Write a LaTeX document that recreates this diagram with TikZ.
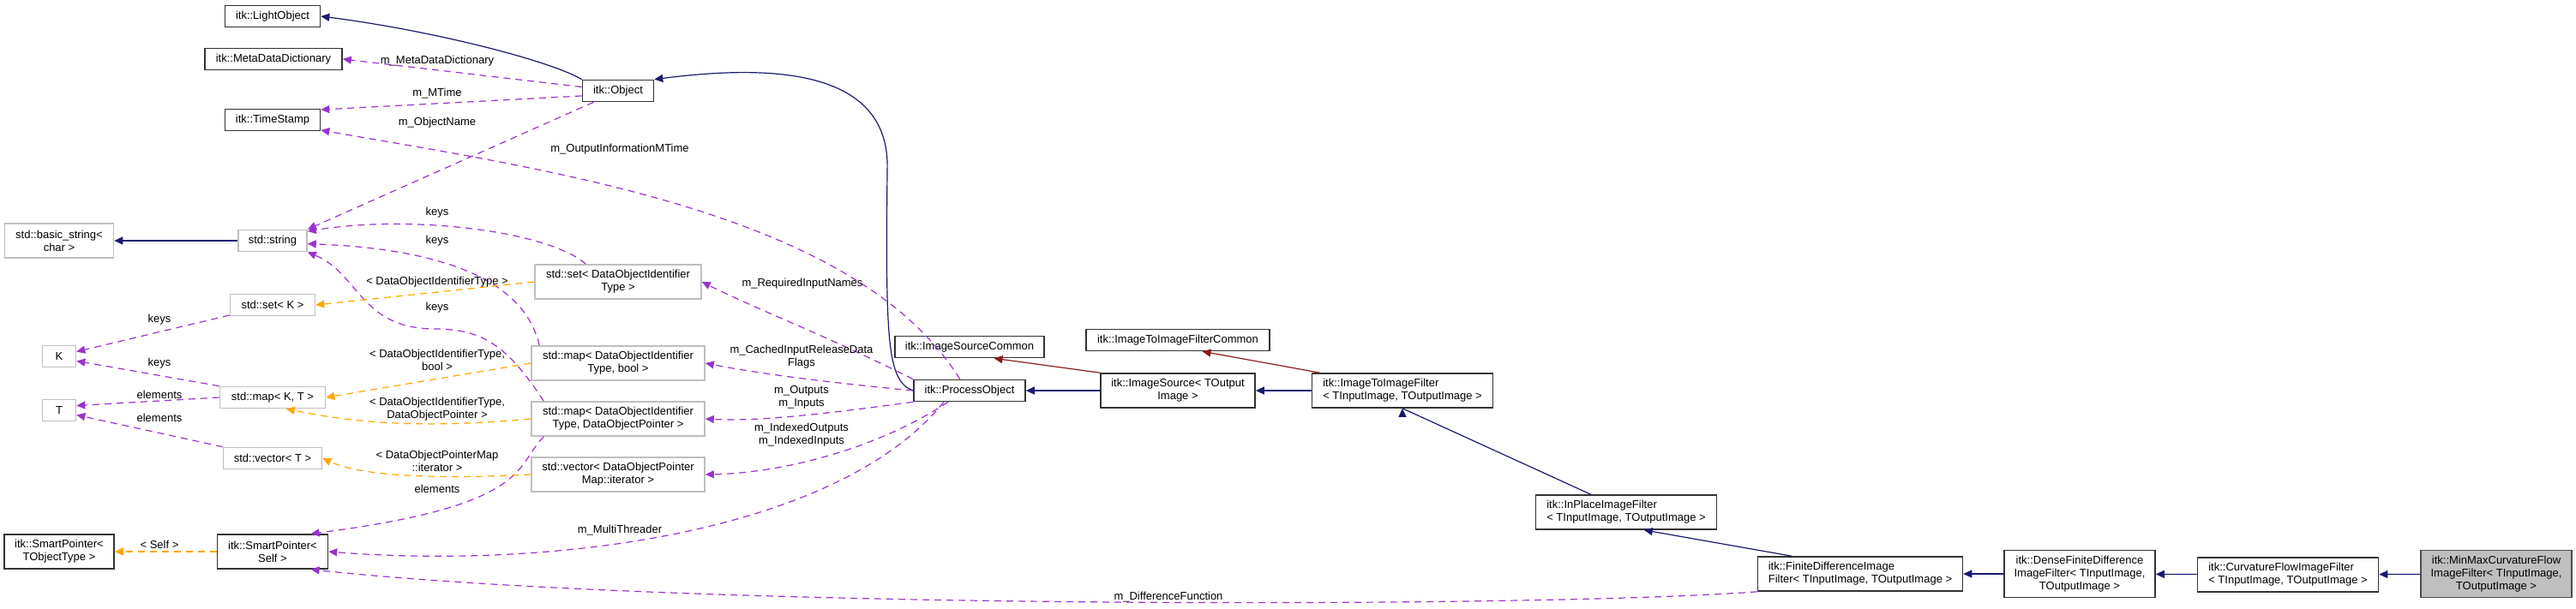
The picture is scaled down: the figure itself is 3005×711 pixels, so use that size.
\documentclass[tikz,border=0pt]{standalone}
\usepackage{fontspec}
\setmainfont{Liberation Sans}
\usetikzlibrary{arrows.meta}

\definecolor{inhcol}{HTML}{191970}
\definecolor{usecol}{HTML}{9A32CD}
\definecolor{tplcol}{HTML}{FFA500}
\definecolor{privcol}{HTML}{8B1A1A}
\definecolor{extcol}{HTML}{BFBFBF}

\tikzset{
  box/.style 2 args={draw, thick, inner sep=1pt, align=center, font=\fontsize{6.5}{7.6}\selectfont,
    minimum width=#1*0.5pt, minimum height=#2*0.5pt},
  cls/.style={draw=black!80},
  ext/.style={draw=extcol},
  root/.style={draw=black!70, fill=extcol},
  lbl/.style={font=\fontsize{6.5}{7.6}\selectfont, align=center, inner sep=0pt},
  inh/.style={draw=inhcol, semithick, -{Triangle[length=5pt,width=4.5pt]}},
  priv/.style={draw=privcol, semithick, -{Triangle[length=5pt,width=4.5pt]}},
  use/.style={draw=usecol, semithick, dash pattern=on 4pt off 3pt, -{Triangle[length=5pt,width=4.5pt]}},
  tpl/.style={draw=tplcol, semithick, dash pattern=on 4pt off 3pt, -{Triangle[length=5pt,width=4.5pt]}},
}

\begin{document}
\begin{tikzpicture}[x=0.5pt, y=-0.5pt]
\useasboundingbox (0,0) rectangle (3005,711);

% classes
\node (lightobj) [box={111}{25}, cls] at (318,19) {itk::LightObject};
\node (metadict) [box={160}{25}, cls] at (319,69) {itk::MetaDataDictionary};
\node (timestamp) [box={111}{25}, cls] at (318,140) {itk::TimeStamp};
\node (object) [box={83}{25}, cls] at (721,106) {itk::Object};
\node (basicstr) [box={127}{40}, ext] at (69,281) {std::basic\_string\textless\\char \textgreater};
\node (stdstr) [box={80}{25}, ext] at (318,281) {std::string};
\node (setk) [box={99}{25}, ext] at (318,356) {std::set\textless\ K \textgreater};
\node (nk) [box={39}{25}, ext] at (69,416) {K};
\node (nt) [box={39}{25}, ext] at (69,479) {T};
\node (mapkt) [box={123}{25}, ext] at (318,464) {std::map\textless\ K, T \textgreater};
\node (vect) [box={115}{25}, ext] at (318,535) {std::vector\textless\ T \textgreater};
\node (sptrt) [box={128}{40}, cls] at (69,644) {itk::SmartPointer\textless\\TObjectType \textgreater};
\node (sptrself) [box={129}{40}, cls] at (318,644) {itk::SmartPointer\textless\\Self \textgreater};
\node (setdoi) [box={194}{40}, ext] at (721,329) {std::set\textless\ DataObjectIdentifier\\Type \textgreater};
\node (mapbool) [box={202}{40}, ext] at (721,424) {std::map\textless\ DataObjectIdentifier\\Type, bool \textgreater};
\node (mapptr) [box={202}{40}, ext] at (721,489) {std::map\textless\ DataObjectIdentifier\\Type, DataObjectPointer \textgreater};
\node (veciter) [box={202}{40}, ext] at (721,554) {std::vector\textless\ DataObjectPointer\\Map::iterator \textgreater};
\node (process) [box={130}{25}, cls] at (1131,456) {itk::ProcessObject};
\node (srccommon) [box={174}{25}, cls] at (1131,405) {itk::ImageSourceCommon};
\node (i2icommon) [box={214}{25}, cls] at (1374,397) {itk::ImageToImageFilterCommon};
\node (imgsrc) [box={180}{40}, cls] at (1374,456) {itk::ImageSource\textless\ TOutput\\Image \textgreater};
\node (i2i) [box={211}{40}, cls, align=left] at (1636,456) {itk::ImageToImageFilter\\\textless\ TInputImage, TOutputImage \textgreater};
\node (inplace) [box={211}{40}, cls, align=left] at (1897,598) {itk::InPlaceImageFilter\\\textless\ TInputImage, TOutputImage \textgreater};
\node (finite) [box={239}{40}, cls, align=left] at (2170,670) {itk::FiniteDifferenceImage\\Filter\textless\ TInputImage, TOutputImage \textgreater};
\node (dense) [box={176}{55}, cls] at (2426,670) {itk::DenseFiniteDifference\\ImageFilter\textless\ TInputImage,\\TOutputImage \textgreater};
\node (curv) [box={211}{40}, cls, align=left] at (2669,671) {itk::CurvatureFlowImageFilter\\\textless\ TInputImage, TOutputImage \textgreater};
\node (minmax) [box={176}{55}, root] at (2912,670) {itk::MinMaxCurvatureFlow\\ImageFilter\textless\ TInputImage,\\TOutputImage \textgreater};

% inheritance
\draw[inh] (object.north west) .. controls (640,70) and (500,35) .. (lightobj.east);
\draw[inh] (process.west) .. controls (1035,445) and (1033,400) .. (1035,200)
  .. controls (1040,80) and (900,75) .. (object.north east);
\draw[inh] (stdstr) -- (basicstr);
\draw[inh] (imgsrc) -- (process);
\draw[priv] (imgsrc.north west) -- (srccommon.-25);
\draw[priv] (i2i.north west) ++(10,0) -- (i2icommon.-25);
\draw[inh] (i2i) -- (imgsrc);
\draw[inh] (inplace.north west) ++(65,0) -- (i2i.south) ++(0,0);
\draw[inh] (finite.north) ++(-80,0) -- (inplace.-45);
\draw[inh] (dense) -- (finite);
\draw[inh] (curv) -- (dense);
\draw[inh] (minmax) -- (curv);

% members
\draw[use] (object.174) -- (metadict.east);
\draw[use] (object.188) -- (timestamp.12);
\draw[use] (object.205) -- (stdstr.north east);
\draw[use] (process.130) .. controls (1000,250) and (650,200) .. (timestamp.-12);
\draw[use] (setdoi.north west) ++(60,0) .. controls (640,270) and (480,250) .. (stdstr.15);
\draw[use] (mapbool.north west) ++(10,0) .. controls (610,320) and (500,290) .. (stdstr.-5);
\draw[use] (mapptr.north west) ++(15,0) .. controls (590,400) and (560,385) .. (510,384)
  .. controls (420,385) and (420,320) .. (stdstr.south east);
\draw[use] (setk) -- (nk.15);
\draw[use] (mapkt.north west) -- (nk.-15);
\draw[use] (mapkt.west) -- (nt.15);
\draw[use] (vect.north west) -- (nt.-15);
\draw[use] (mapptr.south west) ++(15,0) .. controls (600,545) and (620,590) .. (sptrself.25);
\draw[use] (process.south) ++(-30,0) .. controls (980,620) and (650,665) .. (sptrself.east);
\draw[use] (finite.south west) .. controls (1800,710) and (800,712) .. (sptrself.-25);
\draw[use] (process.north west) .. controls (960,390) and (880,360) .. (setdoi.east);
\draw[use] (process.west) .. controls (950,445) and (880,435) .. (mapbool.east);
\draw[use] (process.south west) .. controls (950,485) and (880,492) .. (mapptr.east);
\draw[use] (process.south) ++(-25,0) .. controls (1030,520) and (920,552) .. (veciter.east);

% template instances
\draw[tpl] (setdoi.west) -- (setk.east);
\draw[tpl] (mapbool.west) -- (mapkt.east);
\draw[tpl] (mapptr.west) .. controls (500,500) and (420,495) .. (mapkt.-40);
\draw[tpl] (veciter.west) .. controls (500,560) and (420,555) .. (vect.east);
\draw[tpl] (sptrself) -- (sptrt);

% labels
\node (l1) [lbl] at (510,71) {m\_MetaDataDictionary};
\node (l2) [lbl] at (510,109) {m\_MTime};
\node (l3) [lbl] at (510,143) {m\_ObjectName};
\node (l4) [lbl] at (723,174) {m\_OutputInformationMTime};
\node (l5) [lbl] at (510,248) {keys};
\node (l6) [lbl] at (510,281) {keys};
\node (l7) [lbl] at (510,329) {\textless\ DataObjectIdentifierType \textgreater};
\node (l8) [lbl] at (510,359) {keys};
\node (l9) [lbl] at (186,373) {keys};
\node (l10) [lbl] at (186,424) {keys};
\node (l11) [lbl] at (186,461) {elements};
\node (l12) [lbl] at (186,488) {elements};
\node (l13) [lbl] at (510,420) {\textless\ DataObjectIdentifierType,\\bool \textgreater};
\node (l14) [lbl] at (510,478) {\textless\ DataObjectIdentifierType,\\DataObjectPointer \textgreater};
\node (l15) [lbl] at (510,538) {\textless\ DataObjectPointerMap\\::iterator \textgreater};
\node (l16) [lbl] at (510,571) {elements};
\node (l17) [lbl] at (186,636) {\textless\ Self \textgreater};
\node (l18) [lbl] at (723,619) {m\_MultiThreader};
\node (l19) [lbl] at (1363,697) {m\_DifferenceFunction};
\node (l20) [lbl] at (936,331) {m\_RequiredInputNames};
\node (l21) [lbl] at (935,417) {m\_CachedInputReleaseData\\Flags};
\node (l22) [lbl] at (935,464) {m\_Outputs\\m\_Inputs};
\node (l23) [lbl] at (935,508) {m\_IndexedOutputs\\m\_IndexedInputs};
\end{tikzpicture}
\end{document}
